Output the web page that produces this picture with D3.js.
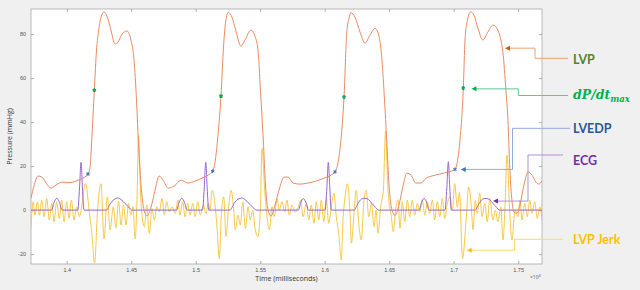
<!DOCTYPE html>
<html><head><meta charset="utf-8">
<script src="https://cdn.jsdelivr.net/npm/d3@7"></script>
<style>body{margin:0;background:#f0f0f0;} svg{display:block;font-family:"Open Sans","Liberation Sans",Arial,sans-serif}</style>
</head><body><svg id="c" width="640" height="290"></svg>
<script>
// ---------- DATA ----------
const xTickValues = [14000,14500,15000,15500,16000,16500,17000,17500];
const xTickLabels = ["1.4","1.45","1.5","1.55","1.6","1.65","1.7","1.75"];
const yTickValues = [-20,0,20,40,60,80];
const yTickLabels = ["-20","0","20","40","60","80"];

const lvpTime = [13723,13746,13777,13808,13840,13878,13917,13964,14026,14088,14134,14165,14181,14194,14214,14231,14245,14266,14289,14312,14343,14374,14398,14429,14467,14498,14522,14541,14555,14576,14599,14623,14654,14685,14716,14747,14786,14833,14887,14940,14995,15049,15096,15132,15150,15169,15196,15216,15232,15253,15281,15312,15351,15382,15428,15459,15483,15502,15524,15541,15561,15584,15615,15646,15685,15716,15755,15809,15871,15933,15995,16049,16080,16103,16126,16150,16171,16189,16204,16235,16274,16313,16351,16390,16421,16444,16464,16481,16499,16522,16545,16576,16607,16638,16669,16708,16747,16786,16832,16894,16956,17010,17033,17049,17075,17088,17107,17132,17157,17188,17227,17265,17304,17343,17366,17382,17405,17421,17436,17452,17467,17491,17514,17545,17576,17607,17638,17661,17685];
const lvpValue = [5.5,10.9,15.5,15,12.3,10,11.4,12.7,12.5,13.6,14.8,16.4,19.5,31.8,54.5,72.7,80.5,87.7,90,88.2,81.8,75.5,76.4,80,81.4,77.3,68.2,50,31.8,11.4,0,-2.7,1.4,9.1,15.5,13.6,10,10.9,13.6,12.3,13.2,14.5,15.9,17.7,21.8,31.8,51.8,74.5,85.5,89.9,87.7,81.4,74.5,77.3,81.8,79.1,72.7,54.5,31.8,11.4,0,-2.7,2.3,9.1,15,15,12.3,11.8,12.3,13.2,14.5,15.9,17.4,21.4,31.8,51.4,80.5,87.3,89.7,87.7,80.9,75.9,79.5,82.6,79.1,68.2,50,31.8,11.4,0,-2.3,2.3,10.9,16.8,15.9,12.3,12.3,14.5,15.5,16.4,17.3,18.5,23.6,31.8,55.5,77.3,86.4,90.1,88.6,82.7,77.3,80.9,84.1,81.8,77.3,71.8,54.5,40.9,18.2,4.5,-0.9,-1.4,2.3,11.4,17.3,15.9,12.7,11.8,13.2];

const ecgTime = [13723,13882,13902,13922,13944,13964,14086,14099,14111,14122,14134,14309,14336,14367,14394,14421,14452,14483,14506,
  14851,14871,14892,14913,14933,15053,15066,15078,15089,15101,15266,15297,15328,15357,15382,15413,15444,15472,
  15796,15815,15834,15855,15875,16003,16017,16028,16040,16051,16227,16258,16285,16313,16340,16367,16394,16417,
  16732,16751,16770,16791,16809,16933,16947,16959,16970,16982,17166,17197,17224,17251,17278,17306,17333,17356,17685];
const ecgValue = [0,0,3.5,5.4,3.5,0,0,10,21.7,10,0,0,2.8,4.8,5.5,4.8,3,1.2,0,
  0,3.5,5.4,3.5,0,0,10,21.7,10,0,0,3,5,5.5,4.8,3,1.2,0,
  0,3.5,5.2,3.5,0,0,10,21.7,10,0,0,3,5,5.4,4.8,3,1.2,0,
  0,3.5,5.3,3.5,0,0,10,22,10,0,0,3,5,5.3,4.8,3,1.2,0,0];

const jerkTime = [13723,13741,13754,13772,13788,13806,13824,13845,13865,13884,13902,13922,13943,13961,13979,14000,14018,14036,14057,14078,14098,14146,14177,14194,14216,14239,14266,14289,14315,14336,14361,14382,14402,14421,14440,14460,14479,14499,14514,14530,14545,14557,14576,14602,14620,14640,14661,14679,14698,14718,14739,14757,14775,14795,14816,14842,14861,14878,14899,14917,14938,14956,14977,14995,15016,15036,15059,15080,15099,15111,15127,15144,15165,15183,15199,15217,15235,15256,15274,15295,15307,15328,15346,15365,15385,15406,15423,15442,15462,15483,15501,15514,15535,15553,15571,15592,15610,15630,15648,15669,15690,15708,15726,15747,15770,15793,15814,15832,15858,15876,15896,15917,15935,15954,15974,15993,16013,16031,16051,16072,16090,16109,16129,16142,16155,16176,16194,16207,16227,16245,16264,16284,16305,16323,16341,16362,16383,16398,16414,16434,16455,16472,16491,16517,16532,16551,16569,16584,16602,16621,16641,16659,16679,16698,16718,16737,16757,16776,16796,16814,16835,16853,16873,16892,16912,16931,16951,16972,16990,17008,17028,17045,17069,17096,17117,17137,17150,17168,17183,17202,17220,17241,17261,17280,17305,17323,17344,17365,17383,17398,17414,17433,17452,17476,17499,17514,17530,17551,17571,17590,17607,17628,17649,17667,17685];
const jerkValue = [-8,3.8,-2.3,3.8,-2.3,4.5,-3,5.3,-4.5,3,-5.3,3.8,-3.8,4.5,-5.3,3.8,-3.8,4.5,-4.5,1.5,-3,12,-2,-10,-24,0,12,-13,6,-9,1.5,-8,4,-6.8,2.3,-6.8,3,-2.3,1.5,-13,5,34,3,-7.6,2.3,-10.6,0.8,-4.5,1.5,-0.8,5.3,-2.3,3.8,-0.8,1.5,-1.5,4.5,-2.3,3.8,-3,3,-2.3,3,-3,3.8,-2.3,2.3,-1.5,3,0,9,5.3,-7.6,-22,-1.5,6,-12,1.5,9,0,-9,-2.3,-6.8,3.8,-8.3,1.5,-4.5,0,-9,-12,0,28,9,-3,-9,1.5,-3,5.3,0,3.8,-0.8,4.5,-2.3,2.3,-1,1,4.5,-3,3,-4.5,2.3,-6,3.8,-4.5,4.5,-5.3,5.3,-6,1.5,7.6,-3,-10.6,-22.7,-4.5,4.5,12,1.5,-15,-1.5,9,-6,-13.6,4.5,9,-3,3,-7.6,0,-10.6,1.5,9,36,9,-3,-9.8,0.8,4.5,-8.3,3.8,-5.3,4.5,-3,4.5,-2.3,3,-0.8,4.5,-2.3,3.8,-1.5,4.5,-4.5,3.8,-3,5.3,-3.8,3,6,0,12,1.5,8,-22,-5,10.6,1.5,-9,4.5,-1.5,7.6,-3,3,-5.3,5.3,-4.5,0,-5.3,1.5,-13.6,1.5,25,1.5,-13.6,0,-3,4.5,-4.5,3,-3,4.5,-1.5,3.8,-3.8,1.5,-4.5];

const dpdtTime = [14214,15196,16150,17075];
const dpdtValue = [54.5,51.8,51.4,55.5];
const lvedpTime = [14165,15132,16080,17010];
const lvedpValue = [16.4,17.7,17.4,18.5];

const annLabels = ["LVP","dP/dt","LVEDP","ECG","LVP Jerk"];
const annTipTime = [17398,17138,17055,17305,17101];
const annTipValue = [73.6,55.1,18.5,4.1,-18.2];

// ---------- LAYOUT / STYLE ----------
const P = {l:31, r:542, t:9, b:264};
const annLayout = [
  {elbowX:535, lineY:58.3, endX:568, textY:64, line:"#f0a277", head:"#c55a11", text:"#548235"},
  {elbowX:518.3, lineY:95.5, endX:568, textY:99, line:"#5cc98f", head:"#00b050", text:"#00b050"},
  {elbowX:512.5, lineY:128.3, endX:570, textY:133, line:"#8faadc", head:"#4472c4", text:"#2f5597"},
  {elbowX:528, lineY:155, endX:563, textY:165, line:"#b08fd3", head:"#7030a0", text:"#7030a0"},
  {elbowX:514.5, lineY:239.3, endX:563, textY:244, line:"#ffd966", head:"#ffc000", text:"#ffc000"}
];

const svg = d3.select("#c");
const x = d3.scaleLinear().domain([13723,17685]).range([P.l,P.r]);
const y = d3.scaleLinear().domain([-24.5,91.4]).range([P.b,P.t]);

svg.append("rect").attr("width",640).attr("height",290).attr("fill","#f0f0f0");
svg.append("rect").attr("x",P.l).attr("y",P.t).attr("width",P.r-P.l).attr("height",P.b-P.t).attr("fill","#fff");

svg.append("defs").append("clipPath").attr("id","clip").append("rect")
  .attr("x",P.l).attr("y",P.t).attr("width",P.r-P.l).attr("height",P.b-P.t);

// axes
const fmtX = d => xTickLabels[xTickValues.indexOf(d)];
const fmtY = d => yTickLabels[yTickValues.indexOf(d)];
function styleAxis(g){
  g.select(".domain").remove();
  g.selectAll("line").attr("stroke","#9a9a9a").attr("stroke-width",0.8);
  g.selectAll("text").attr("fill","#555").attr("font-size",5.5);
}
svg.append("g").attr("transform",`translate(0,${P.b})`)
  .call(d3.axisBottom(x).tickValues(xTickValues).tickFormat(fmtX).tickSizeInner(-3).tickSizeOuter(0).tickPadding(4))
  .call(styleAxis);
svg.append("g").attr("transform",`translate(0,${P.t})`)
  .call(d3.axisTop(x).tickValues(xTickValues).tickFormat("").tickSizeInner(-3).tickSizeOuter(0))
  .call(styleAxis);
svg.append("g").attr("transform",`translate(${P.l},0)`)
  .call(d3.axisLeft(y).tickValues(yTickValues).tickFormat(fmtY).tickSizeInner(-3).tickSizeOuter(0).tickPadding(5))
  .call(styleAxis);
svg.append("g").attr("transform",`translate(${P.r},0)`)
  .call(d3.axisRight(y).tickValues(yTickValues).tickFormat("").tickSizeInner(-3).tickSizeOuter(0))
  .call(styleAxis);
svg.append("rect").attr("x",P.l).attr("y",P.t).attr("width",P.r-P.l).attr("height",P.b-P.t)
  .attr("fill","none").attr("stroke","#a8a8a8").attr("stroke-width",0.8);

svg.append("text").attr("x",(P.l+P.r)/2).attr("y",281).attr("text-anchor","middle")
  .attr("font-size",7).attr("fill","#333").text("Time (milliseconds)");
svg.append("text").attr("transform",`translate(12,${(P.t+P.b)/2}) rotate(-90)`).attr("text-anchor","middle")
  .attr("font-size",7).attr("fill","#333").text("Pressure (mmHg)");
const sc = svg.append("text").attr("x",530).attr("y",279).attr("font-size",5).attr("fill","#555");
sc.append("tspan").text("\u00d710");
sc.append("tspan").attr("dy",-2).attr("font-size",4).text("4");

// series
const plot = svg.append("g").attr("clip-path","url(#clip)");
const mk = (t,v) => t.map((d,i)=>[d,v[i]]);
const line = d3.line().x(d=>x(d[0])).y(d=>y(d[1])).curve(d3.curveMonotoneX);
plot.append("path").attr("d",line(mk(jerkTime,jerkValue))).attr("fill","none").attr("stroke","#f7c948").attr("stroke-width",1);
plot.append("path").attr("d",line(mk(ecgTime,ecgValue))).attr("fill","none").attr("stroke","#9566cc").attr("stroke-width",1);
plot.append("path").attr("d",line(mk(lvpTime,lvpValue))).attr("fill","none").attr("stroke","#ea8a62").attr("stroke-width",1);

const star = d3.symbol().type(d3.symbolAsterisk).size(10);
plot.selectAll(".dp").data(mk(dpdtTime,dpdtValue)).join("path")
  .attr("transform",d=>`translate(${x(d[0])},${y(d[1])})`).attr("d",star)
  .attr("fill","none").attr("stroke","#00a651").attr("stroke-width",1.3);
plot.selectAll(".ed").data(mk(lvedpTime,lvedpValue)).join("path")
  .attr("transform",d=>`translate(${x(d[0])},${y(d[1])})`).attr("d",star)
  .attr("fill","none").attr("stroke","#2e75b6").attr("stroke-width",1);

// annotations
const ann = svg.append("g");
annLabels.forEach((lab,i)=>{
  const L = annLayout[i];
  const tx = x(annTipTime[i]), ty = y(annTipValue[i]);
  ann.append("path").attr("d",`M${tx+4},${ty}H${L.elbowX}V${L.lineY}H${L.endX}`)
    .attr("fill","none").attr("stroke",L.line).attr("stroke-width",1);
  ann.append("path").attr("d",`M${tx},${ty}L${tx+5},${ty-2.5}L${tx+5},${ty+2.5}Z`).attr("fill",L.head);
  if(lab==="dP/dt"){
    const t = ann.append("text").attr("x",573).attr("y",L.textY).attr("fill",L.text)
      .attr("font-family","'DejaVu Serif',serif").attr("font-style","italic").attr("font-weight","bold").attr("font-size",12.5);
    t.append("tspan").text("dP/dt");
    t.append("tspan").attr("dy",3).attr("font-size",8.5).text("max");
  } else {
    ann.append("text").attr("x",573).attr("y",L.textY).attr("fill",L.text)
      .attr("font-family","Lato,'Open Sans',sans-serif").attr("font-weight","bold").attr("font-size",12.5).text(lab);
  }
});
</script></body></html>
